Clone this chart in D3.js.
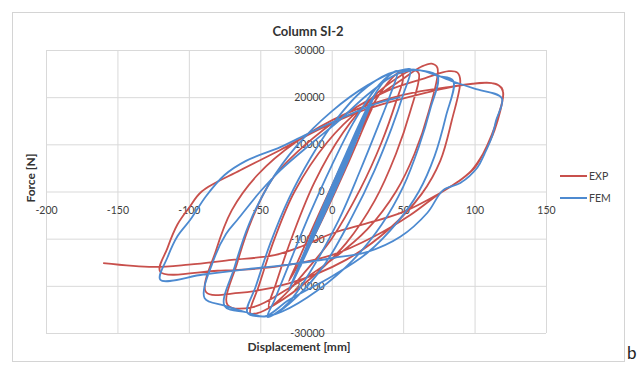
<!DOCTYPE html>
<html>
<head>
<meta charset="utf-8">
<script src="https://cdn.jsdelivr.net/npm/d3@7"></script>
<style>
  body { margin: 0; background: #fff; }
  svg { display: block; font-family: Lato, "Open Sans", sans-serif; }
</style>
</head>
<body>
<svg width="640" height="367"></svg>
<script>
// chart data
const seriesNames = ['EXP', 'FEM'];
const xTicks = [-200, -150, -100, -50, 0, 50, 100, 150];
const yTicks = [-30000, -20000, -10000, 0, 10000, 20000, 30000];

// EXP: displacement [mm], force [N]
const expData = [
  [0, 0], [6, 4000], [11, 7000], [7, 4500], [0, -500], [-6, -4500], [-11, -7500], [-7, -5000], [0, 300],
  [12, 8500], [21, 14000], [16, 10500], [4, 2000], [-8, -6000], [-21, -14500], [-16, -11000], [-4, -2500],
  [10, 7000], [31, 19500], [25, 15500], [10, 5000], [-10, -8000], [-30, -19000], [-24, -15000], [-10, -5500],
  [10, 7500], [30, 19000], [42, 24000], [48, 25300], [50, 24300],
  [45, 19000], [35, 10500], [20, 500], [0, -10000], [-20, -17500], [-35, -22500], [-44, -24500],
  [-39, -19500], [-27, -9000], [-12, 2000], [8, 12500], [28, 19800], [48, 24500], [57, 25800], [61, 25000],
  [55, 17000], [45, 8000], [30, -2000], [10, -11000], [-15, -18500], [-40, -24000], [-52, -25800], [-57, -25800],
  [-51, -20000], [-40, -10000], [-26, 0], [-3, 10500], [22, 18000], [48, 23500], [63, 26500], [70, 27100], [74, 26200],
  [68, 17000], [58, 8000], [45, 0], [25, -8000], [0, -14500], [-30, -20500], [-55, -24500], [-73, -24000],
  [-66, -15000], [-56, -6000], [-42, 2500], [-20, 9500], [10, 16500], [40, 21500], [65, 24000], [82, 25500], [88, 25200], [90, 23500],
  [84, 15000], [76, 6500], [63, -500], [40, -8000], [10, -14500], [-30, -19500], [-65, -21500], [-88, -21300],
  [-81, -12500], [-70, -4000], [-52, 3500], [-25, 10500], [10, 16500], [50, 20500], [85, 22300], [105, 23000], [116, 22700], [120, 21000],
  [116, 15500], [112, 12000], [106, 8000], [100, 5000], [90, 2400], [76, -300],
  [55, -5000], [30, -9500], [0, -13500], [-40, -16000], [-80, -16800], [-120, -17000],
  [-115, -12000], [-108, -7000], [-100, -3500], [-91, 0], [-64, 4500], [-36, 8800], [-10, 13000], [20, 17000], [60, 20500], [95, 22700], [112, 23000], [119, 22000], [120, 20500],
  [114, 13000], [106, 8000], [98, 4500], [88, 2000], [76, -300], [48, -4600], [25, -6700], [1, -8800],
  [-20, -11500], [-40, -13500], [-70, -14500], [-100, -15500], [-125, -16000], [-160, -15200]
];

// FEM: displacement [mm], force [N]
const femData = [
  [0, 0], [8, 5500], [14, 9500], [9, 6000], [0, -500], [-9, -7000], [-14, -10000], [-9, -6500], [0, 500],
  [12, 8800], [22, 15000], [17, 11500], [5, 2500], [-8, -6500], [-22, -16000], [-16, -11500], [-4, -2500],
  [10, 7500], [30, 20500], [24, 16000], [10, 5500], [-10, -8000], [-30, -21000], [-24, -16500], [-10, -6000],
  [10, 8000], [28, 19500], [40, 24500], [46, 25500],
  [41, 20500], [32, 13500], [20, 4500], [5, -6000], [-15, -17000], [-30, -23500], [-40, -26000], [-45, -26600],
  [-40, -23000], [-30, -15500], [-15, -4500], [0, 5500], [15, 14500], [30, 21500], [42, 25000], [50, 25800], [55, 25900],
  [50, 20500], [42, 13500], [30, 4500], [14, -5500], [-5, -15500], [-25, -22500], [-40, -26000], [-47, -26500], [-59, -25700],
  [-53, -20000], [-43, -11000], [-30, -1500], [-15, 7000], [0, 14000], [20, 21000], [40, 25000], [55, 25800], [62, 25700], [74, 24500],
  [69, 17500], [61, 9500], [50, 1000], [35, -7000], [15, -14500], [-10, -21000], [-35, -25500], [-47, -26500], [-60, -25600], [-75, -24300],
  [-68, -16000], [-58, -7000], [-44, 1500], [-25, 9500], [0, 17000], [25, 22500], [45, 25400], [62, 25700], [74, 24500], [85, 23500],
  [80, 16000], [72, 7500], [61, 0], [46, -6500], [25, -13000], [0, -18000], [-30, -23000], [-47, -26500], [-60, -25600], [-75, -24200], [-89, -22600],
  [-82, -14000], [-74, -9000], [-66, -6000], [-50, 0], [-36, 4500], [-15, 10000], [5, 15000], [25, 20500], [45, 24800], [62, 25700], [85, 23300], [100, 21800], [119, 19800],
  [115, 15000], [112, 11500], [107, 8000], [102, 5100], [90, 1800], [78, 300], [67, -4500], [48, -9600], [25, -12800], [1, -14100],
  [-30, -15500], [-60, -16500], [-90, -17600], [-120, -18700],
  [-115, -14000], [-108, -9500], [-99, -6000], [-88, -1000], [-75, 3500], [-60, 6500], [-36, 9400], [-15, 12500], [10, 16000], [30, 18500], [48, 20000]
];

const colors = { EXP: '#c8504c', FEM: '#4d8ad0' };

const svg = d3.select('svg');

const x = d3.scaleLinear().domain([-200, 150]).range([46, 546]);
const y = d3.scaleLinear().domain([-30000, 30000]).range([333, 50]);

// outer frame
svg.append('rect')
   .attr('x', 12.5).attr('y', 12.5)
   .attr('width', 612).attr('height', 349)
   .attr('fill', 'none')
   .attr('stroke', '#d4d4d4');

// gridlines
const gridX = svg.append('g')
   .attr('transform', `translate(0,${y(-30000)})`)
   .call(d3.axisBottom(x).tickValues(xTicks).tickSize(-(y(-30000) - y(30000))).tickFormat(''));
const gridY = svg.append('g')
   .attr('transform', `translate(${x(-200)},0)`)
   .call(d3.axisLeft(y).tickValues(yTicks).tickSize(-(x(150) - x(-200))).tickFormat(''));
[gridX, gridY].forEach(g => {
  g.select('.domain').remove();
  g.selectAll('line').attr('stroke', '#d9d9d9');
});

// tick labels sit on the zero lines, like Excel does
const axX = svg.append('g')
   .attr('transform', `translate(0,${y(0)})`)
   .call(d3.axisBottom(x).tickValues(xTicks).tickSize(0).tickPadding(15).tickFormat(d => String(d)));
const axY = svg.append('g')
   .attr('transform', `translate(${x(0)},0)`)
   .call(d3.axisLeft(y).tickValues(yTicks).tickSize(0).tickPadding(7).tickFormat(d => String(d)));
[axX, axY].forEach(g => {
  g.select('.domain').remove();
  g.selectAll('text')
   .attr('fill', '#404040')
   .style('font-size', '10.5px')
   .style('font-family', 'Lato, "Open Sans", sans-serif');
});

// series
const line = d3.line()
   .x(d => x(d[0]))
   .y(d => y(d[1]))
   .curve(d3.curveCatmullRom.alpha(0.5));

const series = [
  { name: seriesNames[0], values: expData },
  { name: seriesNames[1], values: femData }
];

svg.append('g')
   .selectAll('path')
   .data(series)
   .enter()
   .append('path')
   .attr('d', d => line(d.values))
   .attr('fill', 'none')
   .attr('stroke', d => colors[d.name])
   .attr('stroke-width', 1.8)
   .attr('stroke-linejoin', 'round');

// titles
svg.append('text')
   .attr('x', 308).attr('y', 36)
   .attr('text-anchor', 'middle')
   .style('font-size', '13px').style('font-weight', 'bold')
   .attr('fill', '#333')
   .text('Column SI-2');

svg.append('text')
   .attr('x', 299).attr('y', 351)
   .attr('text-anchor', 'middle')
   .style('font-size', '12px').style('font-weight', 'bold')
   .attr('fill', '#333')
   .text('Displacement [mm]');

svg.append('text')
   .attr('transform', 'translate(35,178) rotate(-90)')
   .attr('text-anchor', 'middle')
   .style('font-size', '12px').style('font-weight', 'bold')
   .attr('fill', '#333')
   .text('Force [N]');

// legend
const legend = svg.append('g')
   .selectAll('g')
   .data(seriesNames)
   .enter()
   .append('g')
   .attr('transform', (d, i) => `translate(560,${176 + i * 22})`);

legend.append('line')
   .attr('x1', 0).attr('x2', 27)
   .attr('stroke', d => colors[d])
   .attr('stroke-width', 2);

legend.append('text')
   .attr('x', 29).attr('dy', '0.35em')
   .style('font-size', '10.5px')
   .attr('fill', '#404040')
   .text(d => d);

svg.append('text')
   .attr('x', 627).attr('y', 359)
   .style('font-size', '17px')
   .attr('fill', '#222')
   .text('b');
</script>
</body>
</html>
